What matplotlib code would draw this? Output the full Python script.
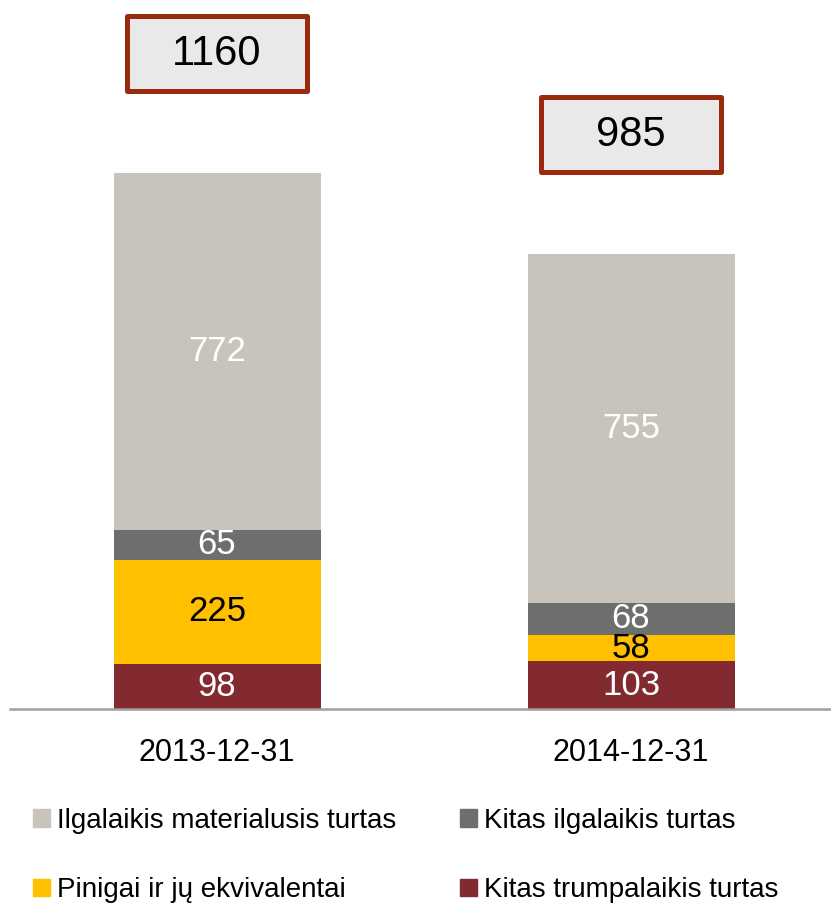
import numpy as np
import matplotlib.pyplot as plt
from matplotlib.patches import Rectangle, Patch

plt.rcParams['font.family'] = ['Liberation Sans', 'DejaVu Sans']

# data
dates = ['2013-12-31', '2014-12-31']
series = ['Kitas trumpalaikis turtas', 'Pinigai ir jų ekvivalentai',
          'Kitas ilgalaikis turtas', 'Ilgalaikis materialusis turtas']
kitas_trump = [98, 103]
pinigai = [225, 58]
kitas_ilg = [65, 68]
ilg_mat = [772, 755]
totals = [1160, 985]

colors = ['#822A30', '#FFC000', '#6D6F6F', '#C8C3BB']
txt_colors = ['white', 'black', 'white', 'white']
values = [kitas_trump, pinigai, kitas_ilg, ilg_mat]

fig = plt.figure(figsize=(8.31, 9.05), dpi=100)
ax = fig.add_axes([10/831, 1 - 709/905, 1 - 10/831, 709/905])

x = np.arange(len(dates))
bottom = np.zeros(len(dates))
for vals, c, tc in zip(values, colors, txt_colors):
    vals = np.array(vals)
    ax.bar(x, vals, 0.5, bottom=bottom, color=c)
    for xi, b, v in zip(x, bottom, vals):
        ax.text(xi, b + v/2, str(v), ha='center', va='center',
                color=tc, fontsize=25)
    bottom = bottom + vals

# total boxes
bw, bh = 0.437, 162
for xi, t in zip(x, totals):
    yc = t + 258
    ax.add_patch(Rectangle((xi - bw/2, yc - bh/2), bw, bh, facecolor='#E9E9E9',
                           edgecolor='#9A2A0E', linewidth=3.6, joinstyle='round',
                           clip_on=False, zorder=3))
    ax.text(xi, yc, str(t), ha='center', va='center', fontsize=30,
            color='black', zorder=4)

ax.set_xlim(-0.5, 1.483)
ax.set_ylim(0, 709/0.4621)
ax.set_xticks(x)
ax.set_xticklabels(dates, fontsize=22)
ax.tick_params(axis='x', length=0, pad=21)
ax.set_yticks([])
for s in ['top', 'right', 'left']:
    ax.spines[s].set_visible(False)
ax.spines['bottom'].set_color('#A0A0A0')
ax.spines['bottom'].set_linewidth(1.8)

handles = [Patch(color=colors[3]), Patch(color=colors[1]),
           Patch(color=colors[2]), Patch(color=colors[0])]
labels = [series[3], series[1], series[2], series[0]]
fig.legend(handles, labels, loc='upper left', bbox_to_anchor=(33/831, 0.107),
           ncol=2, frameon=False, borderpad=0, borderaxespad=0,
           handlelength=0.61, handleheight=0.61, handletextpad=0.25,
           labelspacing=1.55, columnspacing=2.3, fontsize=20)

fig.savefig('out.png', dpi=100)
